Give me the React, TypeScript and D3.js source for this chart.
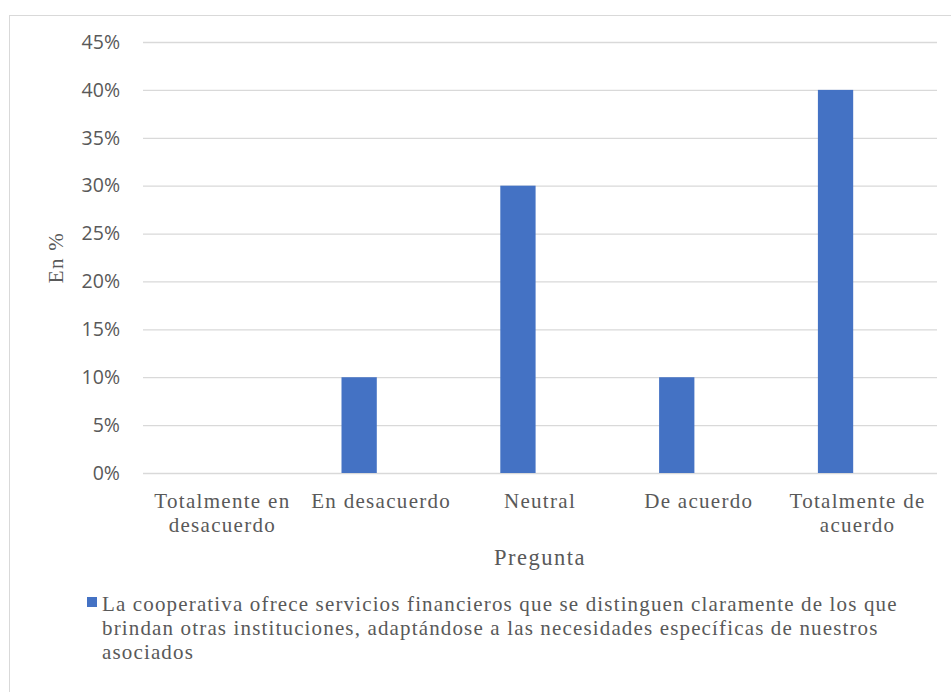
import { useEffect, useRef } from "react"
import * as d3 from "d3"

// chart data
const categories = [
  "Totalmente en desacuerdo",
  "En desacuerdo",
  "Neutral",
  "De acuerdo",
  "Totalmente de acuerdo",
]
const values = [0, 0.1, 0.3, 0.1, 0.4]
const seriesName =
  "La cooperativa ofrece servicios financieros que se distinguen claramente de los que brindan otras instituciones, adaptándose a las necesidades específicas de nuestros asociados"
// the source chart keeps a second (empty) series slot next to the bars
const seriesSlots = ["serie1", "serie2"]
const yTicks = [0, 0.05, 0.1, 0.15, 0.2, 0.25, 0.3, 0.35, 0.4, 0.45]
const xTitle = "Pregunta"
const yTitle = "En %"

const SERIF = "'Liberation Serif', 'Times New Roman', serif"
const SANS = "'Open Sans', 'Noto Sans', sans-serif"
const TEXT = "#595959"
const BAR = "#4472C4"
const GRID = "#d9d9d9"

function wrap(textSel: d3.Selection<SVGTextElement, any, any, any>, width: number, lineHeight: number) {
  textSel.each(function () {
    const text = d3.select(this)
    const words = text.text().split(/\s+/)
    const x = text.attr("x")
    text.text(null)
    let line: string[] = []
    let tspan = text.append("tspan").attr("x", x).attr("dy", 0)
    for (const w of words) {
      line.push(w)
      tspan.text(line.join(" "))
      if ((tspan.node() as SVGTSpanElement).getComputedTextLength() > width && line.length > 1) {
        line.pop()
        tspan.text(line.join(" "))
        line = [w]
        tspan = text.append("tspan").attr("x", x).attr("dy", lineHeight).text(w)
      }
    }
  })
}

export default function App() {
  const svgRef = useRef<SVGSVGElement>(null)

  useEffect(() => {
    if (!svgRef.current) return
    const svg = d3.select(svgRef.current)
    svg.selectAll("*").remove()

    const margin = { top: 42, left: 143 }
    const innerWidth = 794
    const innerHeight = 431

    // outer chart border (cropped on right and bottom)
    svg
      .append("rect")
      .attr("x", 9.5)
      .attr("y", 15.5)
      .attr("width", 1000)
      .attr("height", 800)
      .attr("fill", "white")
      .attr("stroke", GRID)
      .attr("stroke-width", 1)

    const g = svg.append("g").attr("transform", `translate(${margin.left},${margin.top})`)

    const x = d3.scaleBand().domain(categories).range([0, innerWidth])
    const y = d3.scaleLinear().domain([0, 0.45]).range([innerHeight, 0])
    const slot = d3
      .scaleBand()
      .domain(seriesSlots)
      .range([-x.bandwidth() / 4, x.bandwidth() / 4])
      .paddingInner(0.2)

    // grid + y axis
    const yAxis = g
      .append("g")
      .call(
        d3
          .axisLeft(y)
          .tickValues(yTicks)
          .tickFormat(d3.format(".0%"))
          .tickSize(-innerWidth)
          .tickPadding(23)
      )
    yAxis.select(".domain").remove()
    yAxis.selectAll(".tick line").attr("stroke", GRID).attr("stroke-width", 1.3)
    yAxis
      .selectAll(".tick text")
      .attr("fill", TEXT)
      .attr("font-family", SANS)
      .attr("font-size", "19.5px")

    // bars
    g.selectAll("rect.bar")
      .data(categories.map((c, i) => ({ c, v: values[i] })))
      .join("rect")
      .attr("class", "bar")
      .attr("x", (d) => (x(d.c) || 0) + x.bandwidth() / 2 + (slot(seriesSlots[0]) || 0))
      .attr("y", (d) => y(d.v))
      .attr("width", slot.bandwidth())
      .attr("height", (d) => innerHeight - y(d.v))
      .attr("fill", BAR)

    // category labels
    const catText = g
      .selectAll("text.cat")
      .data(categories)
      .join("text")
      .attr("class", "cat")
      .attr("x", (d) => (x(d) || 0) + x.bandwidth() / 2)
      .attr("y", innerHeight + 35)
      .attr("text-anchor", "middle")
      .attr("fill", TEXT)
      .attr("font-family", SERIF)
      .attr("font-size", "21px")
      .attr("letter-spacing", "1.3px")
      .text((d) => d)
    wrap(catText as any, x.bandwidth() - 6, 24)

    // axis titles
    svg
      .append("text")
      .attr("x", margin.left + innerWidth / 2)
      .attr("y", 565)
      .attr("text-anchor", "middle")
      .attr("fill", TEXT)
      .attr("font-family", SERIF)
      .attr("font-size", "22.5px")
      .attr("letter-spacing", "1.5px")
      .text(xTitle)

    svg
      .append("text")
      .attr("transform", `translate(63,${margin.top + innerHeight / 2}) rotate(-90)`)
      .attr("text-anchor", "middle")
      .attr("fill", TEXT)
      .attr("font-family", SERIF)
      .attr("font-size", "21px")
      .attr("letter-spacing", "1.3px")
      .text(yTitle)

    // legend
    svg
      .append("rect")
      .attr("x", 87)
      .attr("y", 597)
      .attr("width", 10)
      .attr("height", 10)
      .attr("fill", BAR)

    const legendText = svg
      .append("text")
      .attr("x", 102)
      .attr("y", 611)
      .attr("fill", TEXT)
      .attr("font-family", SERIF)
      .attr("font-size", "21px")
      .attr("letter-spacing", "1.15px")
      .text(seriesName)
    wrap(legendText as any, 835, 24)
  }, [])

  return (
    <svg
      ref={svgRef}
      width={951}
      height={692}
      style={{ position: "absolute", left: 0, top: 0, background: "white" }}
    />
  )
}
